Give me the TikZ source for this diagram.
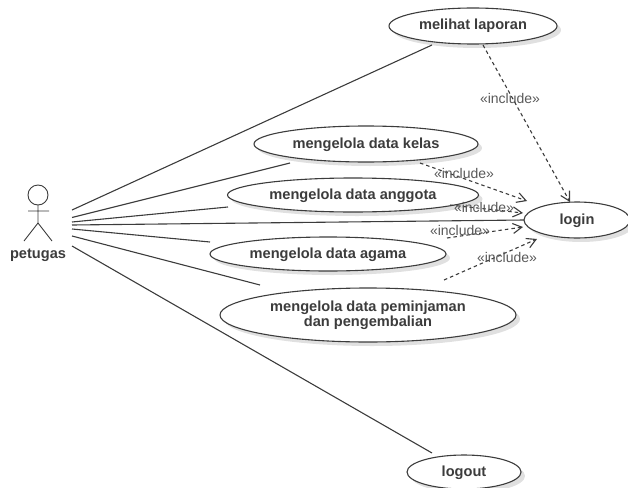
\documentclass[tikz,border=0pt]{standalone}
\usepackage{fontspec}
\setmainfont{Liberation Sans}
\usetikzlibrary{shapes.geometric,arrows.meta,calc,shadows}
\definecolor{ink}{HTML}{3C3C3C}
\newcommand{\lowered}[1]{\raisebox{-4pt}[0pt][0pt]{#1}}
\tikzset{
  x=1pt,y=-1pt,
  usecase/.style={ellipse,draw=ink,line width=1.1pt,fill=white,inner sep=0pt,outer sep=0pt,
    font=\fontsize{14.6}{13}\selectfont\bfseries,text=ink,align=center,
    drop shadow={shadow xshift=4pt,shadow yshift=-4pt,fill=black!12,opacity=1}},
  assoc/.style={draw=ink,line width=1.1pt},
  incl/.style={draw=ink,line width=1.1pt,dash pattern=on 3.5pt off 3pt,-{Straight Barb[length=9pt,width=10pt,line width=1.1pt]}},
  stereo/.style={font=\fontsize{14}{14}\selectfont,text=ink!85,inner sep=0pt},
  actorline/.style={draw=ink,line width=0.9pt}
}
\begin{document}
\begin{tikzpicture}
\useasboundingbox (0,0) rectangle (628,487);
% use cases
\node[usecase,minimum width=168pt,minimum height=36pt] (laporan) at (473,26) {\lowered{melihat laporan}};
\node[usecase,minimum width=224pt,minimum height=36pt] (kelas) at (366,144) {\lowered{mengelola data kelas}};
\node[usecase,minimum width=251pt,minimum height=34pt] (anggota) at (353,195) {\lowered{mengelola data anggota}};
\node[usecase,minimum width=236pt,minimum height=34pt] (agama) at (328,254) {\lowered{mengelola data agama}};
\node[usecase,minimum width=296pt,minimum height=54pt] (pinjam) at (368,315) {mengelola data peminjaman\\dan pengembalian};
\node[usecase,minimum width=106pt,minimum height=36pt] (login) at (577,220) {\lowered{login}};
\node[usecase,minimum width=114pt,minimum height=34pt] (logout) at (464,472) {\lowered{logout}};
% actor
\node[circle,draw=ink,line width=0.9pt,minimum size=20pt,inner sep=0pt,outer sep=0pt] (head) at (38,195) {};
\coordinate (hip) at (38,223);
\coordinate (armL) at (28,211);
\coordinate (armR) at (49,211);
\coordinate (legL) at (24,241);
\coordinate (legR) at (52,241);
\draw[actorline] (head.south) -- (hip) (armL) -- (armR) (legL) -- (hip) -- (legR);
\node[font=\fontsize{14.6}{14}\selectfont\bfseries,text=ink,inner sep=0pt] (petugas) at (38,255) {petugas};
% association start points
\coordinate (s1) at (72,210);
\coordinate (s2) at (72,217.5);
\coordinate (s3) at (72,222);
\coordinate (s4) at (72,225);
\coordinate (s5) at (72,229);
\coordinate (s6) at (72,236);
\coordinate (s7) at (72,246);
\draw[assoc] (s1) -- ($(laporan)+(-41,19)$);
\draw[assoc] (s2) -- ($(kelas)+(-76,19)$);
\draw[assoc] (s3) -- ($(anggota)+(-125,12)$);
\draw[assoc] (s4) -- (login.west);
\draw[assoc] (s5) -- ($(agama)+(-118,-12)$);
\draw[assoc] (s6) -- ($(pinjam)+(-108,-30)$);
\draw[assoc] (s7) -- ($(logout)+(-32,-19)$);
% includes
\draw[incl] ($(laporan)+(10,19)$) -- ($(login)+(-7,-18)$);
\draw[incl] ($(kelas)+(54,19)$) -- ($(login)+(-50,-19)$);
\draw[incl] ($(anggota)+(97,10)$) -- ($(login)+(-54,-7)$);
\draw[incl] ($(agama)+(119,-16)$) -- ($(login)+(-54,7)$);
\draw[incl] ($(pinjam)+(76,-35)$) -- ($(login)+(-40,19)$);
\node[stereo] (i1) at (510,98) {«include»};
\node[stereo] (i2) at (464,173) {«include»};
\node[stereo] (i3) at (484,207) {«include»};
\node[stereo] (i4) at (460,230) {«include»};
\node[stereo] (i5) at (507,257) {«include»};
\end{tikzpicture}
\end{document}
